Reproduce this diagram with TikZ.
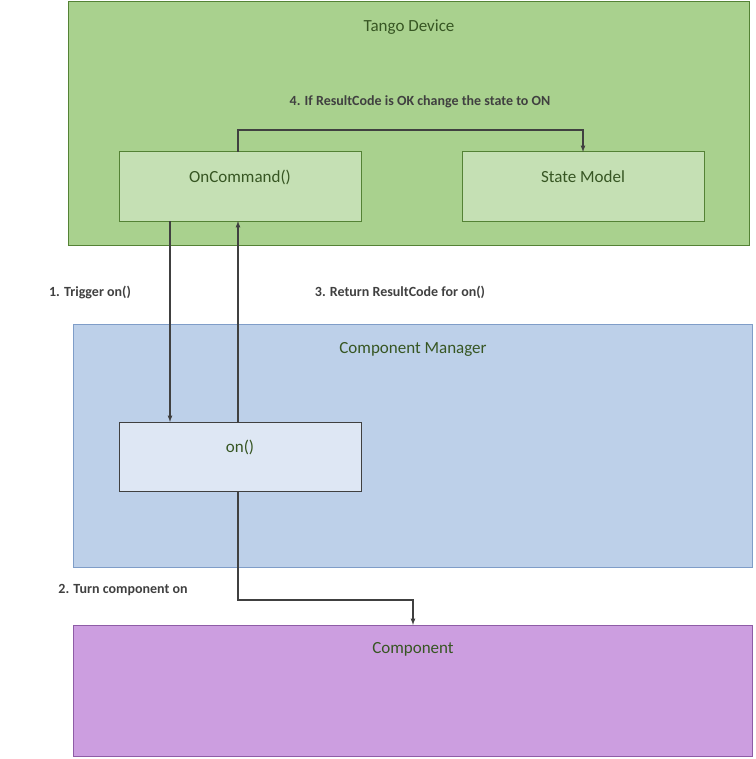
\documentclass[tikz,border=0pt]{standalone}
\usepackage{fontspec}
\setmainfont{Carlito}
\usetikzlibrary{calc}
\definecolor{DeviceFill}{HTML}{A9D18E}
\definecolor{DeviceInner}{HTML}{C5E0B4}
\definecolor{DeviceLine}{HTML}{548235}
\definecolor{ManagerFill}{HTML}{BDD0E9}
\definecolor{ManagerInner}{HTML}{DEE7F4}
\definecolor{ManagerLine}{HTML}{7F9DC8}
\definecolor{CompFill}{HTML}{CC9EE0}
\definecolor{CompLine}{HTML}{8E5CA6}
\definecolor{TitleText}{HTML}{375623}
\definecolor{LabelText}{HTML}{404040}

\begin{document}
\begin{tikzpicture}[x=1pt,y=-1pt,
    box/.style={draw=#1,line width=1pt},
    title/.style={text=TitleText,font=\fontsize{17}{20}\selectfont},
    steplabel/.style={text=LabelText,font=\bfseries\fontsize{14}{16}\selectfont},
    flow/.style={draw=LabelText,line width=1.2pt,-latex}]

    \useasboundingbox (0,0) rectangle (755,759);

    % Rahmen
    \fill[DeviceFill] (68,2) rectangle (749,245);
    \draw[box=DeviceLine] (68,2) rectangle (749,245);
    \fill[ManagerFill] (73,324) rectangle (752,567);
    \draw[box=ManagerLine] (73,324) rectangle (752,567);
    \fill[CompFill] (73,625) rectangle (752,756);
    \draw[box=CompLine] (73,625) rectangle (752,756);

    \filldraw[DeviceInner,box=DeviceLine] (119,152) rectangle (361,221);
    \filldraw[DeviceInner,box=DeviceLine] (462,152) rectangle (704,221);
    \filldraw[ManagerInner,box=black!75] (119,422) rectangle (361,491);

    \node[title] (device) at (409,27) {Tango Device};
    \node[title] (cmd) at (240,177) {OnCommand()};
    \node[title] (state) at (583,177) {State Model};
    \node[title] (manager) at (413,349) {Component Manager};
    \node[title] (on) at (240,447) {on()};
    \node[title] (comp) at (413,649) {Component};

    \coordinate (cmdA) at (170,221);
    \coordinate (cmdB) at (238,221);
    \coordinate (cmdT) at (238,152);
    \coordinate (stateT) at (583,152);
    \coordinate (onA) at (170,422);
    \coordinate (onB) at (238,422);
    \coordinate (onC) at (238,491);
    \coordinate (compT) at (413,625);

    \draw[flow] (cmdT) -- (238,130) -| (stateT);
    \draw[flow] (cmdA) -- (onA);
    \draw[flow] (onB) -- (cmdB);
    \draw[flow] (onC) -- (238,600) -| (compT);

    \node[steplabel] at (420,102) {4. If ResultCode is OK change the state to ON};
    \node[steplabel] at (90,292) {1. Trigger on()};
    \node[steplabel] at (400,292) {3. Return ResultCode for on()};
    \node[steplabel] at (123,590) {2. Turn component on};
\end{tikzpicture}
\end{document}
